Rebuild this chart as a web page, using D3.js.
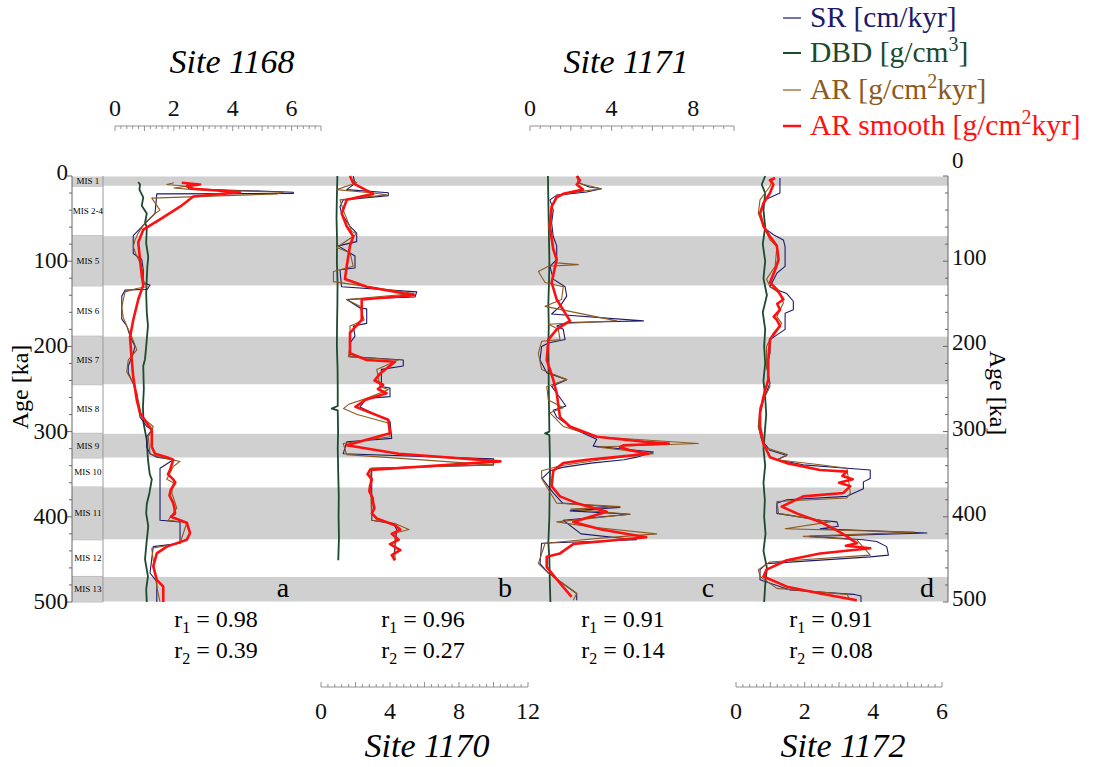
<!DOCTYPE html>
<html>
<head>
<meta charset="utf-8">
<script src="https://cdn.jsdelivr.net/npm/d3@7"></script>
<style>
  body { margin: 0; background: #fff; }
</style>
</head>
<body>
<div id="chart"></div>
<script>
// marine isotope stages [name, top age, bottom age, shaded]
const misStages = [
  ["MIS 1", 0, 12, true], ["MIS 2-4", 12, 70, false], ["MIS 5", 70, 129, true],
  ["MIS 6", 129, 188, false], ["MIS 7", 188, 245, true], ["MIS 8", 245, 302, false],
  ["MIS 9", 302, 331, true], ["MIS 10", 331, 365, false], ["MIS 11", 365, 427, true],
  ["MIS 12", 427, 470, false], ["MIS 13", 470, 500, true]
];
const ageTicks = [0, 100, 200, 300, 400, 500];

// ---- Site 1168 (panel a) : [age ka, value]
const sr1168 = [[8,2.44],[15,2.5],[19,6.06],[20.5,6.06],[21,1.42],[44,1.36],[58,0.96],[70,0.62],[91,0.62],[98,0.91],[110,0.96],[126,0.96],[128,1.19],[133,1.1],[134,0.34],[141,0.23],[168,0.23],[176,0.4],[188,0.51],[200,0.68],[208,0.62],[223,0.45],[231,0.45],[244,0.62],[255,0.74],[283,0.85],[294,1.08],[298,1.25],[306,1.08],[318,1.08],[326,1.19],[330,1.42],[333,1.98],[343,1.53],[404,1.53],[406,2.21],[431,2.21],[435,1.3],[466,1.19],[476,1.42],[500,1.42]];
const dbd1168 = [[7,0.79],[10,0.85],[16,0.83],[25,0.96],[35,0.91],[44,1.08],[55,1.02],[60,1.08],[79,1.06],[95,1.13],[106,1.1],[120,1.08],[138,1.06],[160,1.08],[176,1.12],[200,1.06],[215,1.02],[223,0.96],[250,0.98],[271,0.95],[290,0.97],[310,1.08],[333,1.12],[350,1.18],[356,1.25],[372,1.17],[385,1.08],[396,1.06],[411,1.13],[431,1.07],[450,1.02],[470,1.12],[485,1.06],[500,1.08]];
const ar1168 = [[8,2.0],[10,1.76],[12,2.44],[14,2.0],[16,2.66],[19,5.72],[21,5.5],[26,1.25],[40,1.53],[44,1.36],[55,1.02],[67,0.79],[75,0.68],[83,0.62],[94,0.74],[106,0.91],[122,0.96],[130,1.08],[132,0.74],[136,0.34],[154,0.23],[166,0.28],[176,0.4],[189,0.57],[204,0.74],[216,0.45],[230,0.4],[243,0.62],[255,0.74],[283,0.91],[294,1.3],[306,1.13],[326,1.19],[330,1.53],[335,2.21],[341,1.98],[356,1.76],[360,1.98],[372,1.93],[390,2.1],[404,1.81],[407,2.44],[431,2.21],[437,1.25],[451,1.3],[466,1.36],[482,1.42],[500,1.53]];
const sm1168 = [[8,2.27],[10,2.89],[12,2.44],[15,2.66],[19,4.25],[24,2.66],[36,2.21],[51,1.53],[63,0.96],[78,0.79],[98,0.85],[117,0.91],[128,0.96],[145,0.79],[169,0.62],[189,0.51],[216,0.57],[236,0.62],[263,0.74],[278,0.85],[290,1.08],[298,1.25],[318,1.25],[326,1.36],[330,1.76],[333,1.98],[345,1.87],[350,1.8],[356,1.98],[360,2.05],[368,1.9],[375,1.85],[384,1.98],[390,2.02],[396,2.04],[400,1.9],[407,2.44],[419,2.55],[427,2.44],[435,1.76],[443,1.42],[458,1.3],[474,1.42],[482,1.64],[500,1.64]];

// ---- Site 1170 (panel b)
const sr1170 = [[0,1.87],[8.6,1.97],[16,1.49],[19.6,3.9],[23,3.9],[28,1.29],[36,1.1],[44,1.19],[59,1.68],[67,2.07],[77,2.07],[82,1.0],[94,1.97],[108,1.97],[110,1.1],[130,1.19],[136,5.55],[142,5.45],[145,1.49],[155,2.26],[156,2.65],[173,2.65],[176,1.87],[188,1.97],[196,1.68],[212,1.68],[216,4.77],[223,4.77],[227,3.5],[247,3.5],[249,4.0],[259,4.0],[261,2.65],[271,2.26],[288,4.0],[308,4.1],[312,1.49],[326,1.29],[332,10.0],[339,10.0],[343,2.94],[404,2.94],[408,4.2],[415,4.39],[451,4.2]];
const dbd1170 = [[0,0.95],[25,0.92],[50,0.9],[75,0.93],[100,0.92],[125,0.96],[150,0.95],[175,0.93],[200,0.92],[225,0.96],[250,0.97],[270,0.97],[273,0.62],[275,0.97],[300,0.99],[320,0.97],[350,1.0],[375,1.03],[400,1.02],[425,1.04],[451,1.0]];
const ar1170 = [[2.7,1.68],[8,2.07],[16,0.91],[20,3.03],[22,3.8],[28,1.1],[40,1.29],[65,1.78],[68,2.07],[84,0.91],[90,1.68],[106,1.87],[112,0.72],[124,0.72],[138,5.4],[145,1.49],[153,2.26],[169,2.5],[176,1.68],[200,1.68],[212,1.59],[216,4.48],[227,3.23],[247,3.42],[251,3.9],[261,2.65],[268,1.6],[273,1.3],[280,2.1],[290,3.9],[306,4.0],[314,1.29],[327,1.49],[339,10.0],[343,2.84],[404,2.94],[408,4.29],[415,5.1],[419,4.29],[451,4.29]];
const sm1170 = [[0,1.68],[8.6,1.87],[21,3.03],[28,1.49],[44,1.2],[59,1.49],[71,1.87],[82,1.68],[106,1.49],[121,1.39],[130,2.65],[140,5.4],[145,2.36],[169,2.36],[184,1.68],[208,1.68],[216,2.65],[218,4.29],[232,3.42],[240,3.1],[245,3.6],[250,3.3],[255,3.8],[263,2.55],[271,2.0],[286,3.9],[302,4.0],[316,1.49],[326,4.5],[335,10.4],[345,2.84],[350,2.7],[356,2.95],[364,2.84],[370,2.8],[378,3.0],[384,3.03],[390,3.1],[396,2.95],[402,3.23],[410,4.29],[415,4.6],[420,4.1],[427,4.5],[432,4.0],[439,4.6],[445,4.1],[451,4.29]];

// ---- Site 1171 (panel c)
const sr1171 = [[0,2.37],[8.6,2.45],[13,2.9],[15,3.5],[18.8,2.78],[22.5,1.31],[28,0.98],[40,1.14],[55,1.06],[71,1.14],[82,1.31],[98,1.31],[106,0.98],[121,1.14],[130,1.72],[141,1.8],[153,1.47],[162,1.06],[170,5.56],[172,1.8],[176,1.31],[180,1.63],[192,1.72],[196,0.9],[200,0.57],[216,0.49],[231,0.82],[239,1.8],[247,1.06],[255,1.31],[270,1.76],[275,1.14],[283,1.31],[291,1.8],[294,1.88],[309,3.27],[317,3.1],[324,6.05],[330,5.23],[333,4.6],[337,3.0],[342,1.6],[346,0.98],[355,0.6],[372,1.14],[384,1.6],[389,4.41],[393,1.96],[397,4.9],[404,1.63],[420,2.5],[427,5.23],[431,0.57],[455,0.49],[466,0.9],[490,2.29],[498,2.29]];
const dbd1171 = [[0,0.88],[30,0.9],[60,0.92],[100,0.95],[125,0.93],[150,0.9],[175,0.92],[200,0.9],[250,0.92],[300,0.95],[302,0.74],[304,0.95],[325,0.97],[350,0.98],[375,0.96],[400,0.95],[430,0.9],[450,0.95],[475,0.97],[500,1.0]];
const ar1171 = [[0,2.29],[8.6,2.37],[15,3.5],[18,2.5],[22.5,1.31],[36,1.06],[59,0.9],[102,1.31],[104,2.37],[106,0.9],[112,0.41],[125,0.74],[130,1.63],[145,1.55],[153,0.74],[170,4.25],[174,0.9],[180,1.39],[192,1.47],[194,0.57],[208,0.41],[227,0.57],[239,1.8],[247,0.82],[263,0.9],[272,1.63],[278,0.98],[294,1.63],[306,3.27],[314,8.25],[318,3.27],[326,6.05],[333,3.5],[340,1.5],[346,0.57],[355,0.57],[384,1.31],[388,4.41],[391,2.0],[397,4.9],[406,1.31],[412,3.0],[420,6.21],[425,3.5],[431,0.74],[455,0.41],[466,0.9],[490,2.29],[498,2.12]];
const sm1171 = [[0,2.29],[5,2.45],[10,2.29],[16,2.6],[21,1.63],[25,1.31],[36,1.06],[59,0.98],[86,1.14],[98,1.31],[125,1.06],[145,1.31],[170,1.96],[180,1.31],[192,0.9],[216,0.82],[239,1.14],[255,1.31],[283,1.47],[294,1.96],[306,3.27],[312,5.6],[314,6.8],[316,4.6],[318,4.41],[322,4.9],[326,5.8],[333,2.78],[337,1.63],[346,1.14],[364,1.06],[376,1.47],[384,2.29],[394,3.76],[406,2.12],[415,3.5],[424,5.7],[432,2.12],[443,1.47],[447,0.82],[459,0.82],[478,1.47],[494,2.04]];

// ---- Site 1172 (panel d)
const sr1172 = [[2.4,1.28],[20,1.28],[28,0.85],[44,0.7],[59,0.8],[63,0.89],[69,1.09],[75,1.38],[83,1.43],[106,1.43],[114,1.19],[130,0.99],[132,1.09],[138,1.48],[147,1.67],[157,1.67],[161,1.43],[180,1.43],[192,0.99],[208,0.99],[223,0.89],[243,0.99],[263,0.8],[278,0.7],[294,0.65],[310,0.75],[322,0.99],[328,1.48],[333,1.19],[339,1.96],[343,3.23],[345,3.91],[355,3.91],[359,3.71],[367,3.71],[376,3.23],[380,1.48],[384,1.19],[396,1.19],[404,2.45],[406,2.94],[411,2.98],[414,2.45],[419,5.56],[423,2.15],[427,3.71],[429,4.1],[435,4.39],[445,4.44],[447,3.91],[455,0.89],[462,0.7],[474,0.7],[486,1.58],[491,3.42],[493,3.64],[500,3.64]];
const dbd1172 = [[0,0.85],[10,0.75],[20,0.85],[40,0.8],[60,0.85],[80,0.78],[100,0.85],[120,0.8],[140,0.9],[160,0.78],[180,0.85],[200,0.82],[220,0.85],[240,0.8],[260,0.85],[280,0.88],[300,0.84],[320,0.8],[340,0.85],[360,0.8],[380,0.84],[400,0.82],[420,0.86],[440,0.8],[460,0.9],[480,0.85],[500,0.82]];
const ar1172 = [[2.4,1.09],[12,0.99],[28,0.7],[44,0.65],[59,0.8],[75,0.99],[83,1.19],[106,1.14],[121,0.89],[130,0.99],[138,1.28],[149,1.38],[165,1.19],[173,1.33],[184,1.09],[200,0.89],[223,0.89],[247,0.99],[271,0.7],[294,0.65],[318,0.8],[327,1.5],[333,1.19],[339,2.45],[343,3.23],[372,3.33],[378,3.23],[382,1.19],[396,1.24],[406,2.74],[414,1.43],[418,5.2],[423,1.96],[427,3.52],[445,3.91],[453,0.99],[462,0.65],[470,0.7],[484,1.19],[491,3.23],[498,3.33]];
const sm1172 = [[2.4,1.14],[5,0.99],[10,1.09],[20,0.99],[32,0.8],[44,0.7],[59,0.8],[71,0.99],[82,1.19],[98,1.24],[110,1.14],[125,0.99],[133,1.19],[145,1.38],[150,1.2],[157,1.28],[165,1.1],[169,1.19],[176,1.28],[192,0.99],[216,0.94],[239,0.94],[259,0.8],[278,0.7],[294,0.7],[314,0.8],[330,0.99],[337,1.48],[345,2.45],[347,3.23],[352,3.1],[356,3.4],[360,3.0],[364,3.33],[372,3.13],[376,1.96],[388,1.33],[396,1.77],[406,2.45],[415,2.9],[423,3.23],[428,3.4],[431,3.52],[434,3.2],[437,3.91],[443,2.45],[451,1.48],[462,0.89],[470,0.8],[482,1.48],[490,2.45],[498,3.52]];

const corrR1 = ["0.98", "0.96", "0.91", "0.91"];
const corrR2 = ["0.39", "0.27", "0.14", "0.08"];

const legendItems = [
  {name: "SR [cm/kyr]", color: "#1d1a6b", w: 1.2},
  {name: "DBD [g/cm", sup: "3", tail: "]", color: "#1b4a2f", w: 2},
  {name: "AR [g/cm", sup: "2", tail: "kyr]", color: "#8c5a20", w: 1.2},
  {name: "AR smooth [g/cm", sup: "2", tail: "kyr]", color: "#ff1010", w: 2.5}
];

const W = 1104, H = 767;
const plotTop = 176, plotBottom = 602, plotLeft = 72, plotRight = 948;

const svg = d3.select("#chart").append("svg").attr("width", W).attr("height", H)
  .attr("font-family", "'Liberation Serif', 'Times New Roman', Times, serif");
const y = d3.scaleLinear().domain([0, 500]).range([plotTop, plotBottom]);

// grey stage bands
svg.append("g").selectAll("rect")
  .data(misStages.filter(d => d[3]))
  .enter().append("rect")
  .attr("x", plotLeft).attr("width", plotRight - plotLeft)
  .attr("y", d => y(d[1]) + 0.5).attr("height", d => y(d[2]) - y(d[1]) - 1)
  .attr("fill", "#d0d0d0");

// stage column
const mis = svg.append("g");
mis.append("line").attr("x1", 103).attr("x2", 103).attr("y1", plotTop).attr("y2", plotBottom)
  .attr("stroke", "#999").attr("stroke-width", 1);
mis.selectAll("line.b").data(misStages).enter().append("line")
  .attr("x1", plotLeft).attr("x2", 103)
  .attr("y1", d => y(d[2])).attr("y2", d => y(d[2]))
  .attr("stroke", "#aaa").attr("stroke-width", 0.8);
mis.selectAll("text").data(misStages).enter().append("text")
  .attr("x", 88).attr("y", d => y((d[1] + d[2]) / 2) + 3)
  .attr("text-anchor", "middle").attr("font-size", 9).attr("fill", "#000")
  .text(d => d[0]);

// age axes
function ageAxis(x, dir, anchor, lx, dy, dy0) {
  const g = svg.append("g").attr("stroke", "#666");
  g.append("line").attr("x1", x).attr("x2", x).attr("y1", plotTop).attr("y2", plotBottom);
  g.selectAll("line.t").data(d3.range(0, 501, 20)).enter().append("line")
    .attr("x1", x).attr("x2", d => x + dir * (d % 100 === 0 ? 5 : 3))
    .attr("y1", d => y(d)).attr("y2", d => y(d));
  svg.append("g").selectAll("text").data(ageTicks).enter().append("text")
    .attr("x", lx).attr("y", d => y(d) + (d === 0 ? dy0 : dy)).attr("text-anchor", anchor)
    .attr("font-size", 23).attr("fill", "#111").text(d => d);
}
ageAxis(plotLeft, -1, "end", 68, 7, 4);
ageAxis(plotRight, -1, "start", 952, 4, -8);

svg.append("text").attr("transform", "translate(28,387) rotate(-90)")
  .attr("text-anchor", "middle").attr("font-size", 24).text("Age [ka]");
svg.append("text").attr("transform", "translate(990,393) rotate(90)")
  .attr("text-anchor", "middle").attr("font-size", 24).text("Age [ka]");

// value axes
function valueAxis(scale, yLine, dir, minor, major, labels, labelY) {
  const g = svg.append("g").attr("stroke", "#777").attr("stroke-width", 0.8);
  const r = scale.range();
  g.append("line").attr("x1", r[0]).attr("x2", r[1]).attr("y1", yLine).attr("y2", yLine);
  const d = scale.domain();
  const ticks = d3.range(0, Math.round((d[1] - d[0]) / minor) + 1).map(i => d[0] + i * minor);
  g.selectAll("line.t").data(ticks).enter().append("line")
    .attr("x1", v => scale(v)).attr("x2", v => scale(v))
    .attr("y1", yLine)
    .attr("y2", v => yLine + dir * (Math.abs(v / major - Math.round(v / major)) < 1e-6 ? 5 : 3));
  svg.append("g").selectAll("text").data(labels).enter().append("text")
    .attr("x", v => scale(v)).attr("y", labelY).attr("text-anchor", "middle")
    .attr("font-size", 24).attr("fill", "#111").text(v => v);
}

const panels = [
  {site: "1168", x: d3.scaleLinear().domain([0, 7]).range([115, 321]),
   sr: sr1168, dbd: dbd1168, ar: ar1168, sm: sm1168, letter: "a", lx: 283, rx: 216,
   axis: {y: 126, dir: 1, minor: 0.2, major: 1, labels: [0, 2, 4, 6], ly: 116}, title: {x: 232, y: 73}},
  {site: "1170", x: d3.scaleLinear().domain([0, 12]).range([321, 528]),
   sr: sr1170, dbd: dbd1170, ar: ar1170, sm: sm1170, letter: "b", lx: 505, rx: 423,
   axis: {y: 687, dir: -1, minor: 0.4, major: 2, labels: [0, 4, 8, 12], ly: 719}, title: {x: 427, y: 757}},
  {site: "1171", x: d3.scaleLinear().domain([0, 10]).range([530, 734]),
   sr: sr1171, dbd: dbd1171, ar: ar1171, sm: sm1171, letter: "c", lx: 708, rx: 623,
   axis: {y: 126, dir: 1, minor: 0.5, major: 2, labels: [0, 4, 8], ly: 116}, title: {x: 626, y: 73}},
  {site: "1172", x: d3.scaleLinear().domain([0, 6]).range([736, 942]),
   sr: sr1172, dbd: dbd1172, ar: ar1172, sm: sm1172, letter: "d", lx: 927, rx: 831,
   axis: {y: 687, dir: -1, minor: 0.2, major: 1, labels: [0, 2, 4, 6], ly: 719}, title: {x: 843, y: 757}}
];

panels.forEach((p, i) => {
  const line = d3.line().x(d => p.x(d[1])).y(d => y(d[0]));
  const g = svg.append("g").attr("fill", "none").attr("stroke-linejoin", "round");
  g.append("path").datum(p.dbd).attr("d", line).attr("stroke", legendItems[1].color).attr("stroke-width", 1.8);
  g.append("path").datum(p.sr).attr("d", line).attr("stroke", legendItems[0].color).attr("stroke-width", 1.1);
  g.append("path").datum(p.ar).attr("d", line).attr("stroke", legendItems[2].color).attr("stroke-width", 1.1);
  g.append("path").datum(p.sm).attr("d", line).attr("stroke", legendItems[3].color).attr("stroke-width", 2.6);

  valueAxis(p.x, p.axis.y, p.axis.dir, p.axis.minor, p.axis.major, p.axis.labels, p.axis.ly);

  svg.append("text").attr("x", p.title.x).attr("y", p.title.y).attr("text-anchor", "middle")
    .attr("font-size", 34).attr("font-style", "italic").text("Site " + p.site);

  svg.append("text").attr("x", p.lx).attr("y", 597).attr("text-anchor", "middle")
    .attr("font-size", 28).text(p.letter);

  [[corrR1[i], "1", 627], [corrR2[i], "2", 658]].forEach(r => {
    const t = svg.append("text").attr("x", p.rx).attr("y", r[2]).attr("text-anchor", "middle")
      .attr("font-size", 24);
    t.append("tspan").text("r");
    t.append("tspan").attr("font-size", 16).attr("dy", 6).text(r[1]);
    t.append("tspan").attr("dy", -6).text(" = " + r[0]);
  });
});

// legend
const lg = svg.append("g");
const legY = [27, 62, 99, 135];
legendItems.forEach((d, i) => {
  lg.append("line").attr("x1", 783).attr("x2", 801)
    .attr("y1", legY[i] - 9).attr("y2", legY[i] - 9)
    .attr("stroke", d.color).attr("stroke-width", d.w);
  const t = lg.append("text").attr("x", 810).attr("y", legY[i])
    .attr("font-size", 29.5).attr("fill", d.color);
  t.append("tspan").text(d.name);
  if (d.sup) {
    t.append("tspan").attr("font-size", 20).attr("dy", -11).text(d.sup);
    t.append("tspan").attr("dy", 11).text(d.tail);
  }
});
</script>
</body>
</html>
